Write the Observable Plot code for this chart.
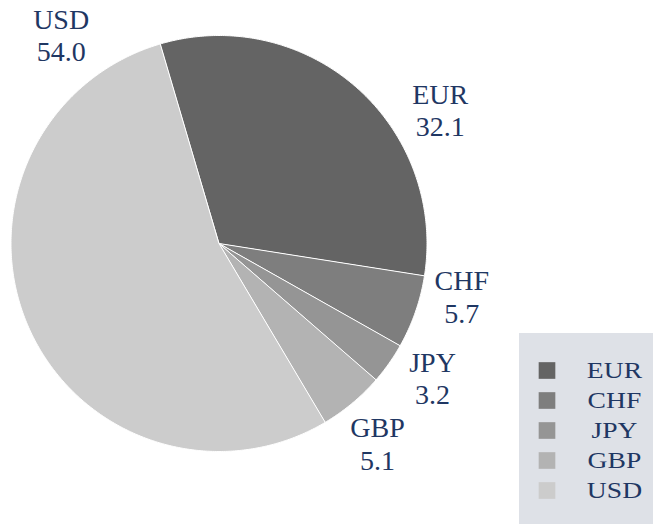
<!DOCTYPE html>
<html>
<head>
<meta charset="utf-8">
<script src="https://cdn.jsdelivr.net/npm/d3@7"></script>
<script src="https://cdn.jsdelivr.net/npm/@observablehq/plot@0.6"></script>
<style>
  body { margin: 0; background: #ffffff; }
  #wrap { position: relative; width: 653px; height: 524px; overflow: hidden; }
  #legend { position: absolute; left: 519px; top: 333px; width: 134px; height: 191px; background: #dee1e7; }
  #legend svg g.legend-labels { transform-box: fill-box; transform-origin: center; transform: scaleX(1.15); }
</style>
</head>
<body>
<div id="wrap"><div id="legend"></div></div>
<script>
// ---- data ----
const currencies = ["EUR", "CHF", "JPY", "GBP", "USD"];
const shares = [32.1, 5.7, 3.2, 5.1, 54.0];
const sliceColors = ["#646464", "#7e7e7e", "#959595", "#b3b3b3", "#cccccc"];

// ---- layout (placement only) ----
const cx = 218.5, cy = 243, R = 208;
const startDeg = -16.5;
const labelNudgeDeg = [17.6, -7.0, -3.1, 1.4, 76.5];
const labelRadius = [1.243, 1.194, 1.212, 1.225, 1.258];
const ink = "#1f3763";
const serif = "'Liberation Serif', 'DejaVu Serif', serif";

const rows = currencies.map((name, i) => ({name, value: shares[i], i}));
const s0 = startDeg * Math.PI / 180;
const arcs = d3.pie().sort(null).value(d => d.value)
  .startAngle(s0).endAngle(s0 + 2 * Math.PI)(rows);

const slices = arcs.map(p => {
  const pts = [[0, 0]];
  const n = Math.max(2, Math.ceil((p.endAngle - p.startAngle) / (Math.PI / 360)));
  for (let k = 0; k <= n; k++) {
    const a = p.startAngle + (p.endAngle - p.startAngle) * k / n;
    pts.push([Math.sin(a), -Math.cos(a)]);
  }
  pts.push([0, 0]);
  return {type: "Feature", properties: {name: p.data.name}, geometry: {type: "Polygon", coordinates: [pts]}};
});

const labelAngle = p => (p.startAngle + p.endAngle) / 2 + labelNudgeDeg[p.data.i] * Math.PI / 180;

const color = {domain: currencies, range: sliceColors};

const chart = Plot.plot({
  width: 653,
  height: 524,
  margin: 0,
  projection: d3.geoIdentity().scale(R).translate([cx, cy]),
  color,
  style: {fontFamily: serif, background: "transparent"},
  marks: [
    Plot.geo(slices, {fill: d => d.properties.name, stroke: "white", strokeWidth: 1}),
    Plot.text(arcs, {
      x: p => Math.sin(labelAngle(p)) * labelRadius[p.data.i],
      y: p => -Math.cos(labelAngle(p)) * labelRadius[p.data.i],
      text: p => `${p.data.name}\n${p.data.value.toFixed(1)}`,
      fontSize: 28,
      lineHeight: 1.16,
      fill: ink,
      textAnchor: "middle"
    })
  ]
});
document.getElementById("wrap").prepend(chart);

const legend = Plot.plot({
  width: 134,
  height: 191,
  margin: 0,
  x: {domain: [0, 1], range: [27.5, 95.5], axis: null},
  y: {type: "point", domain: currencies, range: [21, 172], axis: null},
  color,
  style: {fontFamily: serif, background: "transparent"},
  marks: [
    Plot.dot(currencies, {x: () => 0, y: d => d, fill: d => d, symbol: "square", r: 9.4, stroke: null}),
    Plot.text(currencies, {x: () => 1, y: d => d, text: d => d, fontSize: 24, fill: ink, textAnchor: "middle", className: "legend-labels"})
  ]
});
document.getElementById("legend").append(legend);
</script>
</body>
</html>
